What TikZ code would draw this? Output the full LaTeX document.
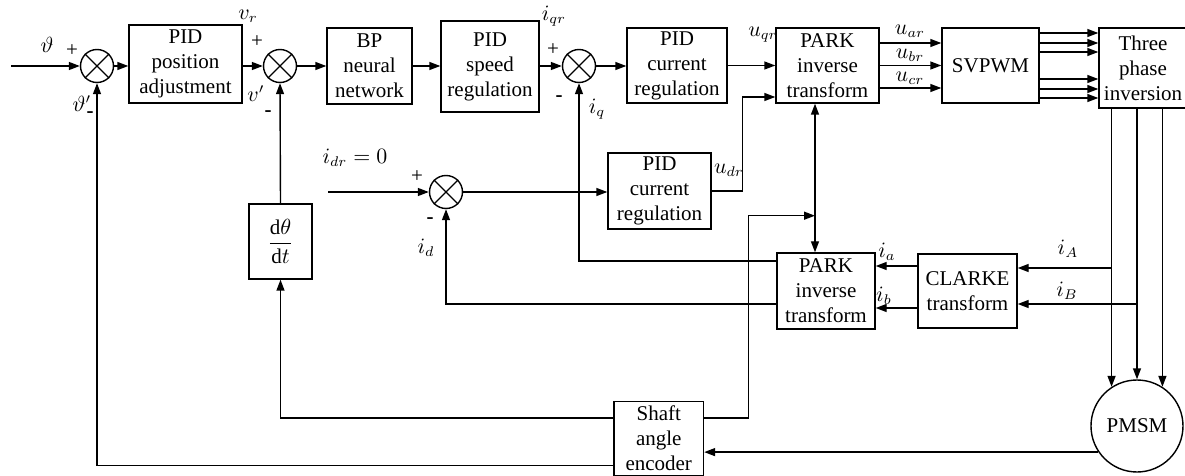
\documentclass[tikz,border=0pt]{standalone}
\usepackage{fontspec}
\setmainfont{Liberation Serif}
\usetikzlibrary{arrows.meta,calc}
\begin{document}
\begin{tikzpicture}[x=0.5pt,y=-0.5pt,line width=0.7pt,
  every node/.style={font=\fontsize{10.5}{12.5}\selectfont},
  bx/.style 2 args={draw,align=center,inner sep=0pt,minimum width={#1*0.5pt},minimum height={#2*0.5pt}},
  sumc/.style={draw,circle,minimum size=16.5pt,inner sep=0pt},
  arr/.style={-{Triangle[length=5.5pt,width=4pt]}},
  darr/.style={{Triangle[length=5.5pt,width=4pt]}-{Triangle[length=5.5pt,width=4pt]}},
  lbl/.style={inner sep=0pt}]
\useasboundingbox (0,0) rectangle (1185,476);

% blocks
\node[bx={113}{78}] (pidpos) at (185.5,64) {PID\\position\\adjustment};
\node[bx={85}{76}] (bp) at (369.5,66) {BP\\neural\\network};
\node[bx={98}{91}] (pidspd) at (490,66.5) {PID\\speed\\regulation};
\node[bx={100}{75}] (pidcur1) at (677,65.5) {PID\\current\\regulation};
\node[bx={103}{75}] (park1) at (827.5,65.5) {PARK\\inverse\\transform};
\node[bx={97}{75}] (svpwm) at (990.5,65.5) {SVPWM};
\node[bx={88}{80}] (three) at (1143,68) {Three\\phase\\inversion};
\node[bx={103}{76}] (pidcur2) at (659.5,191) {PID\\current\\regulation};
\node[bx={98}{76}] (park2) at (826,291) {PARK\\inverse\\transform};
\node[bx={99}{74}] (clarke) at (967.5,291) {CLARKE\\transform};
\node[bx={63}{75}] (dtheta) at (280.5,241.5) {$\displaystyle\frac{\mathrm{d}\theta}{\mathrm{d}t}$};
\node[bx={89.5}{74}] (enc) at (658.75,438.5) {Shaft\\angle\\encoder};
\node[draw,circle,minimum size=46pt,inner sep=0pt] (pmsm) at (1137,426) {PMSM};

% summing junctions
\node[sumc] (s1) at (97,66) {};
\node[sumc] (s2) at (280,66) {};
\node[sumc] (s3) at (579,66) {};
\node[sumc] (s4) at (446,192) {};
\foreach \n in {s1,s2,s3,s4} \draw (\n.45) -- (\n.225) (\n.135) -- (\n.-45);

% free ends / helper coordinates
\coordinate (in1) at (11,66);
\coordinate (in4) at (328,192);
\coordinate (bt) at ($(park1.south)+(-12.5,0)$);
\coordinate (jn) at ($(bt)+(0,112)$);
\coordinate (ee) at ($(enc.east)+(0,-20.5)$);
\coordinate (ew) at ($(enc.west)+(0,-20.5)$);
\coordinate (ew2) at ($(enc.west)+(0,27)$);
\coordinate (ca) at ($(clarke.east)+(0,-23)$);
\coordinate (cb) at ($(clarke.east)+(0,13)$);

% main forward path
\draw[arr] (in1) -- (s1.west);
\draw[arr] (s1.east) -- (s1.east -| pidpos.west);
\draw[arr] (s2.west -| pidpos.east) -- (s2.west);
\draw[arr] (s2.east) -- (bp.west);
\draw[arr] (bp.east) -- (bp.east -| pidspd.west);
\draw[arr] (s3.west -| pidspd.east) -- (s3.west);
\draw[arr] (s3.east) -- (s3.east -| pidcur1.west);
\draw[arr] (pidcur1.east) -- (pidcur1.east -| park1.west);
\draw[arr] (pidcur2.east) -- ++(31,0) |- ($(park1.west)+(0,31.5)$);
\foreach \d in {-22.5,0,22.5}
  \draw[arr] ($(park1.east)+(0,\d)$) -- ($(svpwm.west)+(0,\d)$);
\foreach \d in {-32.5,-22.5,-13.5,13.5,23.5,32.5}
  \draw[arr] ($(svpwm.east)+(0,\d)$) -- ($(svpwm.east -| three.west)+(0,\d)$);
\foreach \a in {123,90,57}
  \draw[arr] (pmsm.\a |- three.south) -- (pmsm.\a);

% d-axis
\draw[arr] (in4) -- (s4.west);
\draw[arr] (s4.east) -- (s4.east -| pidcur2.west);

% current feedback
\draw[arr] (ca -| pmsm.123) -- (ca);
\draw[arr] (cb -| pmsm.90) -- (cb);
\draw[arr] ($(clarke.west)+(0,-25)$) -- ($(park2.east)+(0,-25)$);
\draw[arr] ($(clarke.west)+(0,17)$) -- ($(park2.east)+(0,17)$);
\draw[arr] ($(park2.west)+(0,-30)$) -| (s3.south);
\draw[arr] ($(park2.west)+(0,13)$) -| (s4.south);
\draw[darr] (bt) -- (bt |- park2.north);

% encoder feedback
\draw[arr] (pmsm.214) -- (pmsm.214 -| enc.east);
\draw[arr] (ee) -- ++(44.5,0) |- (jn);
\draw[arr] (ew) -| (dtheta.south);
\draw[arr] (dtheta.north) -- (s2.south);
\draw[arr] (ew2) -| (s1.south);

% labels
\node[lbl] at (47,45) {$\vartheta$};
\node[lbl] at (72,51) {+};
\node[lbl] at (82,104) {$\vartheta'$};
\node[lbl] at (90,115) {\textbf{-}};
\node[lbl] at (248,16) {$v_r$};
\node[lbl] at (257,42) {+};
\node[lbl] at (256,94) {$v'$};
\node[lbl] at (268,114) {\textbf{-}};
\node[lbl] at (554,16) {$i_{qr}$};
\node[lbl] at (553,50) {+};
\node[lbl] at (559,99) {\textbf{-}};
\node[lbl] at (597,109) {$i_q$};
\node[lbl] at (763,35) {$u_{qr}$};
\node[lbl] at (910,31) {$u_{ar}$};
\node[lbl] at (910,55) {$u_{br}$};
\node[lbl] at (910,78) {$u_{cr}$};
\node[lbl] at (355,158) {$i_{dr}=0$};
\node[lbl] at (417,177) {+};
\node[lbl] at (430,221) {\textbf{-}};
\node[lbl] at (426,248) {$i_d$};
\node[lbl] at (729,170) {$u_{dr}$};
\node[lbl] at (887,252) {$i_a$};
\node[lbl] at (884,296) {$i_b$};
\node[lbl] at (1068,249) {$i_A$};
\node[lbl] at (1067,291) {$i_B$};
\end{tikzpicture}
\end{document}
